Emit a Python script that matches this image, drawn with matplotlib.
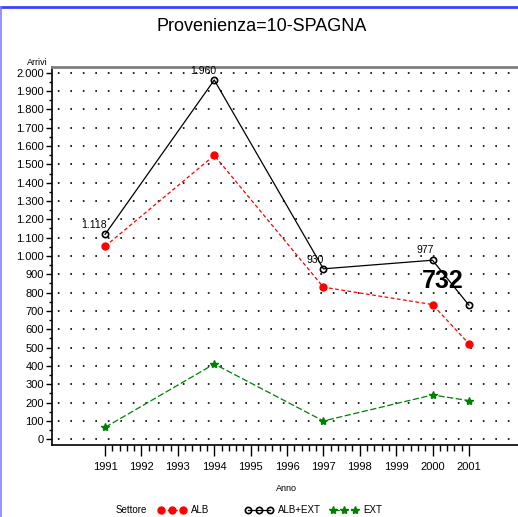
import matplotlib
matplotlib.use("Agg")
import matplotlib.pyplot as plt
from matplotlib.lines import Line2D
from matplotlib.ticker import MultipleLocator, FixedLocator, FuncFormatter

plt.rcParams['font.family'] = ['Liberation Sans', 'DejaVu Sans']

anni = [1991, 1994, 1997, 2000, 2001]
alb = [1053, 1549, 830, 735, 521]
alb_ext = [1118, 1960, 930, 977, 732]
ext = [65, 411, 100, 242, 211]

# offset (pixel) delle etichette sui punti ALB+EXT
offs = [(-11, 9), (-11, 9), (-8, 9), (-7, 10), (-26, 24)]


def ital(v, pos=None):
    return "{:,.0f}".format(v).replace(",", ".")


fig = plt.figure(figsize=(5.18, 5.17), dpi=100)
ax = fig.add_axes([0.1004, 0.1393, 0.8996, 0.7311])

l1, = ax.plot(anni, alb, color="red", linestyle=(0, (3, 2)), linewidth=0.9,
              marker="o", markersize=5, markerfacecolor="red", markeredgecolor="red",
              label="ALB")
l2, = ax.plot(anni, alb_ext, color="black", linestyle="-", linewidth=0.9,
              marker="o", markersize=4.5, markerfacecolor="none", markeredgecolor="black",
              markeredgewidth=1.2, label="ALB+EXT")
l3, = ax.plot(anni, ext, color="green", linestyle=(0, (5, 2)), linewidth=0.9,
              marker="*", markersize=6, markerfacecolor="green", markeredgecolor="green",
              label="EXT")

for i, (x, y) in enumerate(zip(anni, alb_ext)):
    last = i == len(anni) - 1
    ax.annotate(ital(y), (x, y), xytext=offs[i], textcoords="offset pixels",
                ha="center", va="center",
                fontsize=18 if last else 7.5,
                fontweight="bold" if last else "normal")

ax.set_xlim(1989.54, 2002.35)
ax.set_ylim(-31, 2031)
ax.xaxis.set_major_locator(FixedLocator(range(1991, 2002)))
ax.xaxis.set_minor_locator(FixedLocator([1991 + k * 0.2 for k in range(51)]))
ax.yaxis.set_major_locator(MultipleLocator(100))
ax.yaxis.set_minor_locator(MultipleLocator(50))
ax.yaxis.set_major_formatter(FuncFormatter(ital))
ax.tick_params(axis="both", labelsize=8)
ax.tick_params(axis="x", which="major", length=8, width=1, pad=4)
ax.tick_params(axis="x", which="minor", length=4, width=1)
ax.tick_params(axis="y", which="major", length=4, width=1, pad=2)
ax.tick_params(axis="y", which="minor", length=2, width=1)

ax.yaxis.grid(True, which="major", linestyle=(4, (1, 6.5)), linewidth=1.2, color="black")
ax.set_axisbelow(True)

ax.spines["right"].set_visible(False)
ax.spines["top"].set_color("#808080")
ax.spines["top"].set_linewidth(2)
ax.spines["left"].set_linewidth(1.2)
ax.spines["bottom"].set_linewidth(1.2)

fig.text(0.506, 0.948, "Provenienza=10-SPAGNA", ha="center", va="center", fontsize=13)
fig.text(0.072, 0.880, "Arrivi", ha="center", va="center", fontsize=6.5)
fig.text(0.554, 0.056, "Anno", ha="center", va="center", fontsize=6.5)
fig.text(0.253, 0.013, "Settore", ha="center", va="center", fontsize=7)

# una voce di legenda per colonna, a posizioni fisse come nel riferimento
for h, x0 in zip([l1, l2, l3], [0.305, 0.473, 0.637]):
    fig.legend(handles=[h], loc="center left", bbox_to_anchor=(x0, 0.013), frameon=False,
               numpoints=3, fontsize=7, handlelength=2.9, handletextpad=0.5,
               borderpad=0, borderaxespad=0)

fig.add_artist(Line2D([0, 1], [0.9874, 0.9874], transform=fig.transFigure,
                      color="#4040ff", linewidth=2))
fig.add_artist(Line2D([0.001, 0.001], [0, 0.9874], transform=fig.transFigure,
                      color="#8080ff", linewidth=1.2))

fig.savefig("out.png", dpi=100)
